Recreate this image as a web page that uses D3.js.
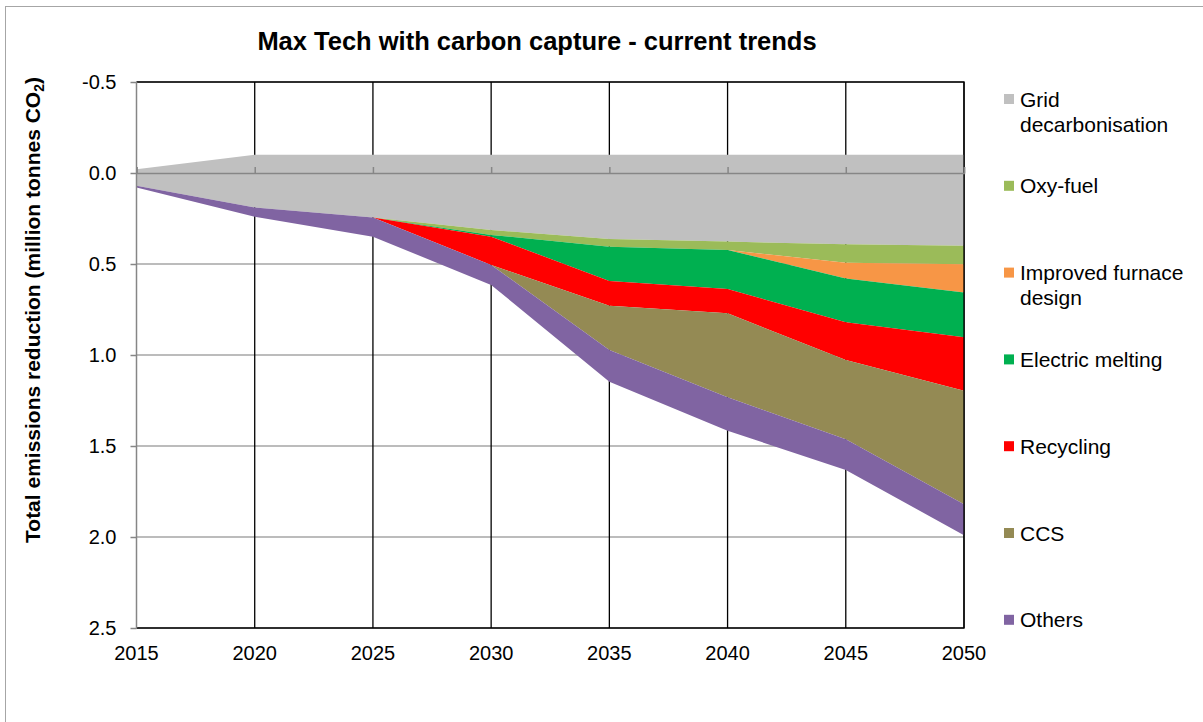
<!DOCTYPE html>
<html>
<head>
<meta charset="utf-8">
<script src="https://cdn.jsdelivr.net/npm/d3@7"></script>
<style>
  body { margin: 0; background: #fff; }
  text { font-family: Arial, "Liberation Sans", sans-serif; fill: #000; }
</style>
</head>
<body>
<div id="chart"></div>
<script>
// years on the x axis
var years = [2015, 2020, 2025, 2030, 2035, 2040, 2045, 2050];

// stack starts here (grey band reaches above zero)
var baseline = [-0.02, -0.1, -0.1, -0.1, -0.1, -0.1, -0.1, -0.1];

// series values (million tonnes CO2), stacked in this order
var gridDecarb = [0.09, 0.29, 0.345, 0.413, 0.463, 0.477, 0.492, 0.5];
var oxyFuel = [0, 0, 0, 0.027, 0.042, 0.046, 0.101, 0.102];
var furnace = [0, 0, 0, 0, 0, 0, 0.086, 0.155];
var electric = [0, 0, 0, 0.01, 0.188, 0.214, 0.241, 0.246];
var recycling = [0, 0, 0, 0.155, 0.137, 0.134, 0.207, 0.293];
var ccs = [0, 0, 0, 0, 0.243, 0.461, 0.436, 0.624];
var others = [0.01, 0.05, 0.105, 0.11, 0.174, 0.184, 0.169, 0.17];

var seriesNames = ["Grid decarbonisation", "Oxy-fuel", "Improved furnace design",
  "Electric melting", "Recycling", "CCS", "Others"];
var seriesValues = [gridDecarb, oxyFuel, furnace, electric, recycling, ccs, others];
var seriesColors = ["#C0C0C0", "#9BBB59", "#F79646", "#00B050", "#FF0000", "#948A54", "#8064A2"];

// legend labels, wrapped the way the original does it
var legendLines = [["Grid", "decarbonisation"], ["Oxy-fuel"], ["Improved furnace", "design"],
  ["Electric melting"], ["Recycling"], ["CCS"], ["Others"]];

var yTicks = [-0.5, 0, 0.5, 1, 1.5, 2, 2.5];

var w = 1203;
var h = 722;
var plot = { left: 136.5, right: 964, top: 82, bottom: 628 };

// table for d3.stack
var table = years.map(function (yr, i) {
  var row = { year: yr };
  seriesNames.forEach(function (name, k) { row[name] = seriesValues[k][i]; });
  return row;
});

var svg = d3.select("#chart")
  .append("svg")
  .attr("width", w)
  .attr("height", h);

// outer chart border
svg.append("rect")
  .attr("x", 5.5).attr("y", 6.5)
  .attr("width", w + 10).attr("height", h + 10)
  .attr("fill", "none")
  .attr("stroke", "#a6a6a6");

var x = d3.scaleLinear().domain([2015, 2050]).range([plot.left, plot.right]);
var y = d3.scaleLinear().domain([-0.5, 2.5]).range([plot.top, plot.bottom]);

// horizontal gridlines
svg.append("g")
  .selectAll("line")
  .data(yTicks)
  .enter()
  .append("line")
  .attr("x1", plot.left).attr("x2", plot.right)
  .attr("y1", function (d) { return y(d); })
  .attr("y2", function (d) { return y(d); })
  .attr("stroke", "#a6a6a6")
  .attr("stroke-width", 1.3);

// vertical gridlines
svg.append("g")
  .selectAll("line")
  .data(years.slice(1))
  .enter()
  .append("line")
  .attr("x1", function (d) { return x(d); })
  .attr("x2", function (d) { return x(d); })
  .attr("y1", plot.top).attr("y2", plot.bottom)
  .attr("stroke", "#000")
  .attr("stroke-width", 1.3);

// stack, shifted onto the baseline
var stack = d3.stack()
  .keys(seriesNames)
  .offset(function (series, order) {
    d3.stackOffsetNone(series, order);
    series.forEach(function (s) {
      s.forEach(function (p, j) { p[0] += baseline[j]; p[1] += baseline[j]; });
    });
  });
var stacked = stack(table);

var area = d3.area()
  .x(function (d) { return x(d.data.year); })
  .y0(function (d) { return y(d[0]); })
  .y1(function (d) { return y(d[1]); });

svg.append("g")
  .selectAll("path")
  .data(stacked)
  .enter()
  .append("path")
  .attr("d", area)
  .attr("fill", function (d, i) { return seriesColors[i]; });

// plot area border (top, right, bottom)
svg.append("path")
  .attr("d", "M" + plot.left + "," + plot.top + "H" + plot.right + "V" + plot.bottom + "H" + plot.left)
  .attr("fill", "none")
  .attr("stroke", "#000")
  .attr("stroke-width", 1.3);

// category axis crossing at zero
svg.append("g")
  .attr("transform", "translate(0," + y(0) + ")")
  .call(d3.axisTop(x).tickValues(years).tickSize(6).tickFormat(""))
  .call(function (g) {
    g.selectAll("line, path").attr("stroke", "#868686").attr("stroke-width", 1.5);
  });

// value axis on the left (plain hyphen for the minus sign, like Excel)
var fmt = d3.format(".1f");
var yAxis = svg.append("g")
  .attr("transform", "translate(" + plot.left + ",0)")
  .call(d3.axisLeft(y).tickValues(yTicks).tickSize(6).tickPadding(14)
    .tickFormat(function (d) { return fmt(d).replace("\u2212", "-"); }));
yAxis.selectAll("line, path").attr("stroke", "#868686").attr("stroke-width", 1.5);
yAxis.select(".domain").attr("d", "M0," + plot.top + "V" + plot.bottom);
yAxis.selectAll("text")
  .attr("font-size", "20px")
  .attr("font-family", "Arial, 'Liberation Sans', sans-serif")
  .attr("fill", "#000");

// year labels below the plot
svg.append("g")
  .selectAll("text")
  .data(years)
  .enter()
  .append("text")
  .attr("x", function (d) { return x(d); })
  .attr("y", 660)
  .attr("text-anchor", "middle")
  .attr("font-size", "20px")
  .text(function (d) { return d; });

// chart title
svg.append("text")
  .attr("x", 537)
  .attr("y", 50)
  .attr("text-anchor", "middle")
  .attr("font-size", "25.5px")
  .attr("font-weight", "bold")
  .text("Max Tech with carbon capture - current trends");

// y axis title with subscript
var yTitle = svg.append("text")
  .attr("transform", "translate(40,310) rotate(-90)")
  .attr("text-anchor", "middle")
  .attr("font-size", "21px")
  .attr("font-weight", "bold");
yTitle.append("tspan").text("Total emissions reduction (million tonnes CO");
yTitle.append("tspan").attr("font-size", "14px").attr("dy", 4).text("2");
yTitle.append("tspan").attr("dy", -4).text(")");

// legend
var legend = svg.append("g")
  .selectAll("g")
  .data(seriesNames)
  .enter()
  .append("g")
  .attr("transform", function (d, i) { return "translate(1004," + (99 + i * 86.8) + ")"; });

legend.append("rect")
  .attr("x", 0).attr("y", -5)
  .attr("width", 10).attr("height", 10)
  .attr("fill", function (d, i) { return seriesColors[i]; });

legend.append("text")
  .attr("x", 16)
  .attr("y", 7.5)
  .attr("font-size", "21px")
  .selectAll("tspan")
  .data(function (d, i) { return legendLines[i]; })
  .enter()
  .append("tspan")
  .attr("x", 16)
  .attr("dy", function (d, j) { return j === 0 ? 0 : 25; })
  .text(function (d) { return d; });
</script>
</body>
</html>
